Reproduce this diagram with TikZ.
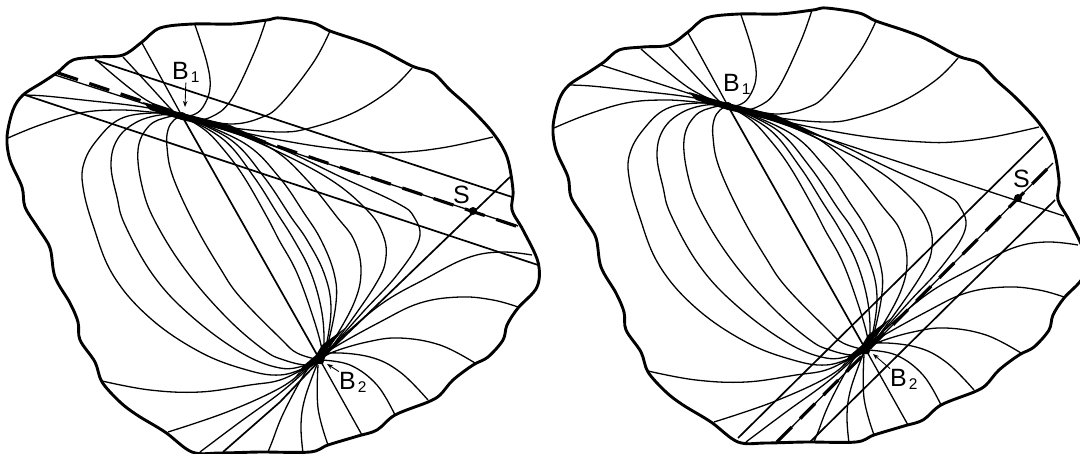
\documentclass[tikz,border=0pt]{standalone}
\usepackage{fontspec}
\setmainfont{Liberation Sans}
\usetikzlibrary{arrows.meta}
\tikzset{
  outline/.style={line width=2.9pt,line join=round},
  fld/.style={line width=1.3pt},
  heavy/.style={line width=1.7pt},
  dashpart/.style={line width=3.2pt,dash pattern=on 21pt off 12pt},
  tiparrow/.style={line width=.9pt,-{Stealth[length=6pt,width=4.5pt]}},
  lab/.style={inner sep=0pt,anchor=base west,font=\fontsize{25}{25}\selectfont},
  blob/.style={fill=black,draw=none},
  dotS/.style={circle,fill=black,inner sep=0pt,minimum size=8pt}
}
\newcommand{\sm}[1]{\draw[fld] plot[smooth,tension=.65] coordinates {#1};}
\newcommand{\BI}{B\hspace{2pt}\raisebox{-3.5pt}{\fontsize{15.5}{15.5}\selectfont 1}}
\newcommand{\BII}{B\hspace{2pt}\raisebox{-3.5pt}{\fontsize{15.5}{15.5}\selectfont 2}}
\newcommand{\panel}{%
  \draw[outline] plot[smooth cycle,tension=.55] coordinates {
    (7,137) (13,110) (23,95) (43,82) (58,72) (73,60) (97,57) (123,55) (142,42) (160,28) (193,24) (233,24) (267,20) (280,18) (313,23) (330,31) (360,41) (380,49) (412,66) (433,73) (450,90) (470,108) (493,133) (507,157) (513,190) (512,210) (523,230) (538,262) (537,287) (518,308) (507,325) (503,340) (488,357) (473,365) (453,380) (440,395) (428,402) (395,415) (377,430) (358,436) (328,445) (310,452) (260,452) (220,453) (192,452) (165,432) (137,415) (120,402) (102,382) (95,362) (80,340) (78,322) (70,303) (55,277) (50,248) (38,228) (25,207) (22,187) (10,160)};
  % upper fan at B1
  \sm{(23,95) (45,96) (83,100) (143,107) (182,116)}
  \sm{(95,59) (143,98) (182,116)}
  \sm{(123,57) (147,83) (174,112) (182,116)}
  \sm{(142,43) (182,116)}
  \sm{(195,25) (207,63) (210,88) (203,107) (193,115) (182,116)}
  \sm{(266,20) (254,53) (231,100) (211,117) (191,120) (182,116)}
  \sm{(330,31) (313,63) (280,105) (260,118) (233,124) (203,120) (182,116)}
  \sm{(412,68) (390,90) (353,113) (310,128) (280,132) (233,128) (200,122) (182,116)}
  \sm{(493,137) (447,147) (407,152) (377,152) (330,148) (280,140) (233,130) (182,116)}
  \sm{(8,138) (40,125) (80,113) (117,110) (150,112) (182,116)}
  \draw[fld] (55,75) -- (182,116) -- (518,226);
  % left of centre
  \sm{(182,116) (153,113) (120,119) (97,140) (84,163) (83,187) (93,225) (113,275) (150,318) (200,352) (247,370) (280,375) (307,367) (320,360)}
  \sm{(182,116) (160,115) (135,123) (117,140) (111,165) (117,197) (125,225) (153,275) (190,315) (240,352) (280,368) (307,365) (320,360)}
  \sm{(182,116) (168,117) (149,126) (138,150) (143,190) (157,225) (187,272) (227,318) (264,350) (284,360) (307,365) (320,360)}
  \sm{(182,116) (174,120) (168,130) (167,147) (173,177) (195,225) (220,268) (240,297) (280,338) (297,353) (320,360)}
  \draw[heavy] (182,116) -- (320,360);
  % right of centre
  \sm{(182,116) (205,130) (224,150) (244,177) (267,217) (279,240) (297,273) (314,320) (322,350) (321,359)}
  \sm{(182,116) (224,140) (254,177) (277,213) (294,240) (311,273) (322,313) (324,350) (321,359)}
  \sm{(182,116) (231,140) (264,177) (291,217) (307,240) (324,273) (331,307) (326,347) (321,359)}
  \sm{(182,116) (244,143) (279,177) (304,213) (321,240) (334,273) (336,303) (327,347) (321,359)}
  \sm{(182,116) (230,131) (274,150) (307,180) (337,217) (354,240) (361,270) (354,303) (329,348) (321,359)}
  \sm{(182,116) (230,131) (281,153) (331,180) (364,207) (381,230) (386,257) (374,287) (331,348) (321,359)}
  \sm{(182,116) (230,131) (284,150) (341,177) (397,203) (414,217) (419,240) (397,275) (363,312) (331,348) (321,359)}
  % lower fan at B2
  \sm{(102,381) (150,390) (200,392) (250,385) (280,380) (307,367) (320,360)}
  \sm{(168,432) (227,412) (280,388) (307,368) (320,360)}
  \sm{(200,452) (240,422) (280,393) (310,367) (320,360)}
  \sm{(268,452) (272,442) (284,412) (307,370) (320,360)}
  \sm{(303,453) (301,425) (305,398) (318,362)}
  \sm{(328,445) (318,408) (318,365)}
  \draw[fld] (362,435) -- (320,360);
  \sm{(395,415) (377,385) (350,365) (320,360)}
  \sm{(428,400) (400,372) (370,357) (330,353) (320,360)}
  \sm{(475,363) (440,345) (400,338) (367,342) (333,352) (320,360)}
  \sm{(518,307) (493,300) (460,297) (420,303) (380,322) (330,350) (320,360)}
  \sm{(532,255) (500,252) (467,258) (427,278) (380,305) (330,348) (320,360)}
  % converging bundles
  \fill[blob] (143,102) -- (178,112) -- (230,125) -- (276,146) -- (228,131) -- (182,120) -- (150,110) -- cycle;
  \fill[blob] (182,116) circle (4pt);
  \fill[blob] (345,328) -- (328,348) -- (323,364) -- (316,364) -- (300,372) -- (292,382) -- (303,366) -- (316,355) -- (322,345) -- cycle;
  \fill[blob] (320,360) circle (3.5pt);
}
\begin{document}
\begin{tikzpicture}[x=1pt,y=-1pt]
  \clip (0,0) rectangle (1080,453);
  \fill[white] (0,0) rectangle (1080,453);
  % ---------- left panel ----------
  \panel
  \draw[heavy] (95,60) -- (512,197);
  \draw[heavy] (25,95) -- (538,265);
  \draw[heavy] (320,360) -- (510,177);
  \draw[heavy] (223,452) -- (280,402) -- (320,360);
  \draw[dashpart] (58,73) -- (522,228);
  \node[dotS] (sl) at (473,211) {};
  \node[lab] (sl t) at (453,203) {S};
  \node[lab] (b1l) at (172,79) {\BI};
  \node[lab] (b2l) at (339,389) {\BII};
  \coordinate (a1l) at (185,107);
  \coordinate (a2l) at (327,364);
  \draw[tiparrow] (b1l.south) -- (a1l);
  \draw[tiparrow] (b2l.north west) -- (a2l);
  % ---------- right panel ----------
  \begin{scope}[shift={(546,-10)}]
    \panel
  \end{scope}
  \draw[heavy] (1043,137) -- (738,438);
  \draw[heavy] (1055,200) -- (810,442);
  \draw[fld] (777,442) -- (1053,163);
  \draw[dashpart] (777,442) -- (1053,163);
  \node[dotS] (sr) at (1018,198) {};
  \node[lab] (sr t) at (1013,187) {S};
  \node[lab] (b1r) at (723,91) {\BI};
  \node[lab] (b2r) at (890,386) {\BII};
  \coordinate (a2r) at (873,354);
  \draw[tiparrow] (b2r.north west) -- (a2r);
\end{tikzpicture}
\end{document}
